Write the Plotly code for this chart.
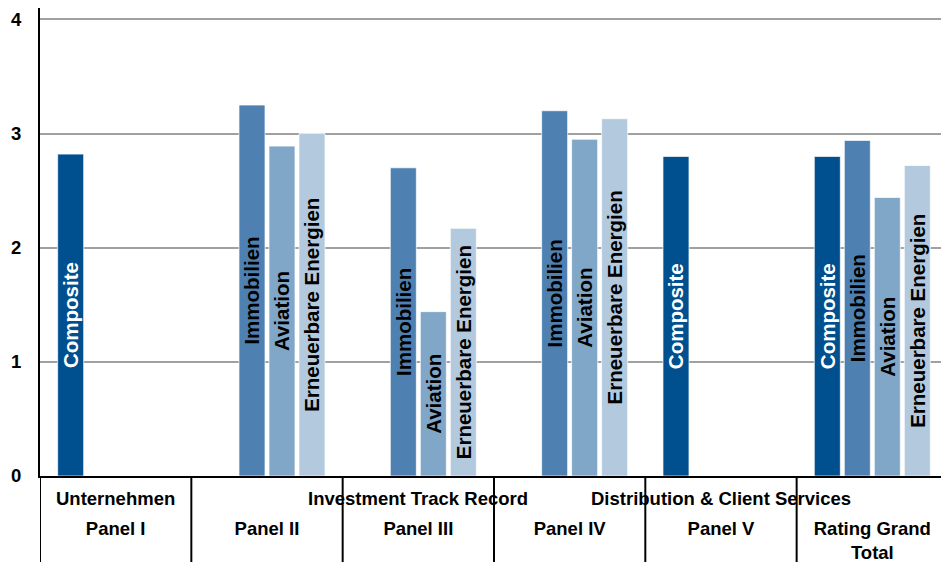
import plotly.graph_objects as go

# ---- data ----
panels = ["Panel I", "Panel II", "Panel III", "Panel IV", "Panel V", "Rating Grand<br>Total"]
group_labels = ["Unternehmen", "Investment Track Record", "Distribution & Client Services"]
group_centers = ["Panel I", "Panel III", "Panel V"]

series_names = ["Composite", "Immobilien", "Aviation", "Erneuerbare Energien"]
composite = [2.82, None, None, None, 2.80, 2.80]
immobilien = [None, 3.25, 2.70, 3.20, None, 2.94]
aviation = [None, 2.89, 1.44, 2.95, None, 2.44]
erneuerbare = [None, 3.00, 2.17, 3.13, None, 2.72]
y_ticks = [0, 1, 2, 3, 4]

# ---- styles ----
colors = ["#004f8f", "#4e81b2", "#80a6c8", "#b3c9de"]
text_colors = ["white", "black", "black", "black"]
FONT = "Liberation Sans, Arial, sans-serif"

fig = go.Figure()
for name, vals, col, tcol in zip(series_names, [composite, immobilien, aviation, erneuerbare], colors, text_colors):
    fig.add_trace(go.Bar(
        x=panels, y=vals, name=name,
        marker=dict(color=col, line=dict(color="rgba(255,255,255,0.7)", width=1)),
        text=[name if v is not None else "" for v in vals],
        textposition="inside", insidetextanchor="middle", textangle=-90,
        constraintext="none",
        textfont=dict(family=FONT, size=20.5, color=tcol, weight="bold"),
        hoverinfo="skip",
    ))

# vertical dividers at category boundaries in the label area
shapes = []
for i in range(len(panels)):
    shapes.append(dict(type="line", xref="x", yref="paper", x0=i - 0.5, x1=i - 0.5,
                       y0=0, y1=-0.3, line=dict(color="black", width=2)))

annotations = []
for lab, c in zip(group_labels, group_centers):
    annotations.append(dict(x=c, xref="x", y=0, yref="paper", yshift=-22, text=lab,
                            showarrow=False, yanchor="middle", xanchor="center",
                            font=dict(family=FONT, size=18.5, color="black", weight="bold")))

plot_left = 40
fig_w = 941
cat_px = 151.33
xmax = -0.5 + (fig_w - plot_left) / cat_px

fig.update_layout(
    width=941, height=562,
    margin=dict(l=plot_left, r=0, t=8, b=86),
    paper_bgcolor="white", plot_bgcolor="white",
    barmode="group", bargap=0.207, bargroupgap=0.133,
    showlegend=False,
    shapes=shapes, annotations=annotations,
    xaxis=dict(type="category", range=[-0.5, xmax], showgrid=False, automargin=False,
               showline=True, linecolor="black", linewidth=2,
               ticks="", ticklabelstandoff=35,
               tickfont=dict(family=FONT, size=18.5, color="black", weight="bold")),
    yaxis=dict(range=[0, 4.1], tickvals=y_ticks, showgrid=True, gridcolor="#a0a0a0", gridwidth=1.5,
               zeroline=False, showline=True, linecolor="black", linewidth=2, automargin=False,
               ticks="", ticklabelstandoff=13,
               tickfont=dict(family=FONT, size=18.5, color="black", weight="bold")),
)

fig.write_html("out.html")
